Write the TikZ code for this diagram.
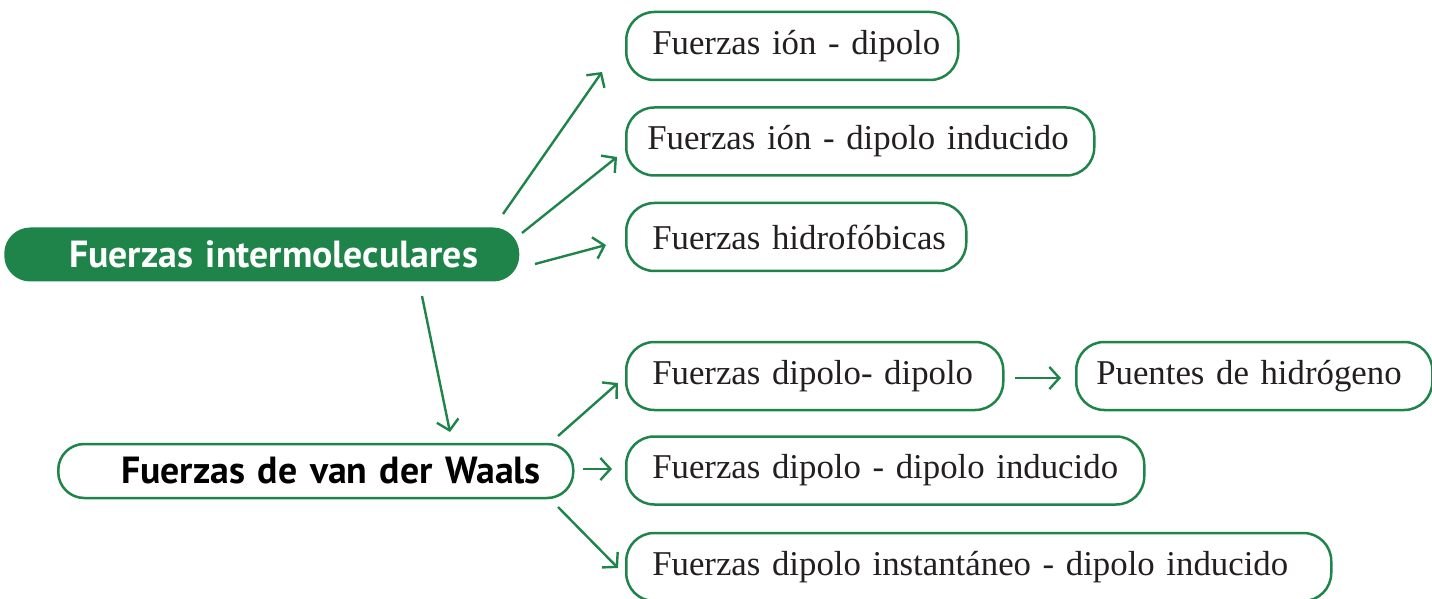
\documentclass[tikz,border=0pt]{standalone}
\usepackage{fontspec}
\usetikzlibrary{arrows.meta}
\newfontfamily\leaffam{Liberation Serif}
\newfontfamily\headfam{PT Sans}
\newcommand\leaffont{\leaffam\fontsize{17.4pt}{20pt}\selectfont}
\newcommand\headfont{\headfam\bfseries\fontsize{18.9pt}{22pt}\selectfont}
\definecolor{vgreen}{RGB}{31,132,73}
\definecolor{ink}{RGB}{35,31,32}
\tikzset{
  leaf/.style={draw=vgreen, line width=1.25pt, rounded corners=14pt, anchor=west,
    align=left, inner xsep=13pt, inner ysep=0pt, minimum height=34pt,
    text=ink, font=\leaffont},
  head/.style={line width=1.25pt, rounded corners=13pt, anchor=west, align=left,
    inner ysep=0pt, minimum height=27pt, font=\headfont},
  link/.style={draw=vgreen, line width=1.2pt,
    -{Straight Barb[length=5pt,width=11pt,line width=1.2pt]}},
}
\begin{document}
\begin{tikzpicture}[x=0.5pt,y=-0.5pt]
\useasboundingbox (0,0) rectangle (1432,599);

% main concepts
\node[head, fill=vgreen, text=white, inner xsep=32.5pt, text width=192.5pt] (inter) at (3,254.5) {\mbox{Fuerzas intermoleculares}};
\node[head, draw=vgreen, fill=white, text=black, inner xsep=31.5pt, text width=194.5pt] (waals) at (57,471) {\mbox{Fuerzas de van der Waals}};

% kinds of forces
\node[leaf, text width=140pt] (iondip) at (625,46) {\mbox{Fuerzas ión - dipolo}};
\node[leaf, inner xsep=10.5pt, text width=213pt] (ionind) at (625,141.5) {\mbox{Fuerzas ión - dipolo inducido}};
\node[leaf, text width=144pt] (hidro) at (625,237) {\mbox{Fuerzas hidrofóbicas}};
\node[leaf, text width=162.5pt] (dipdip) at (625,376) {\mbox{Fuerzas dipolo- dipolo}};
\node[leaf, inner xsep=10pt, text width=158pt] (puentes) at (1075,376) {\mbox{Puentes de hidrógeno}};
\node[leaf, text width=233pt] (dipind) at (625,470.5) {\mbox{Fuerzas dipolo - dipolo inducido}};
\node[leaf, text width=326.5pt] (instind) at (625,567) {\mbox{Fuerzas dipolo instantáneo - dipolo inducido}};

% connector end points
\coordinate (s1) at (503,214);  \coordinate (e1) at (602,72);
\coordinate (s2) at (522,233);  \coordinate (e2) at (617,157);
\coordinate (s3) at (535,264);  \coordinate (e3) at (606,245);
\coordinate (s4) at (422,296);  \coordinate (e4) at (450,432);
\coordinate (s5) at (558,436);  \coordinate (e5) at (618,383);
\coordinate (s6) at (583,469);  \coordinate (e6) at (612,469);
\coordinate (s7) at (558,507);  \coordinate (e7) at (618,568);
\coordinate (s8) at (1015,378); \coordinate (e8) at (1061,378);

\draw[link] (s1) -- (e1);
\draw[link] (s2) -- (e2);
\draw[link] (s3) -- (e3);
\draw[link] (s4) -- (e4);
\draw[link] (s5) -- (e5);
\draw[link] (s6) -- (e6);
\draw[link] (s7) -- (e7);
\draw[link] (s8) -- (e8);
\end{tikzpicture}
\end{document}
